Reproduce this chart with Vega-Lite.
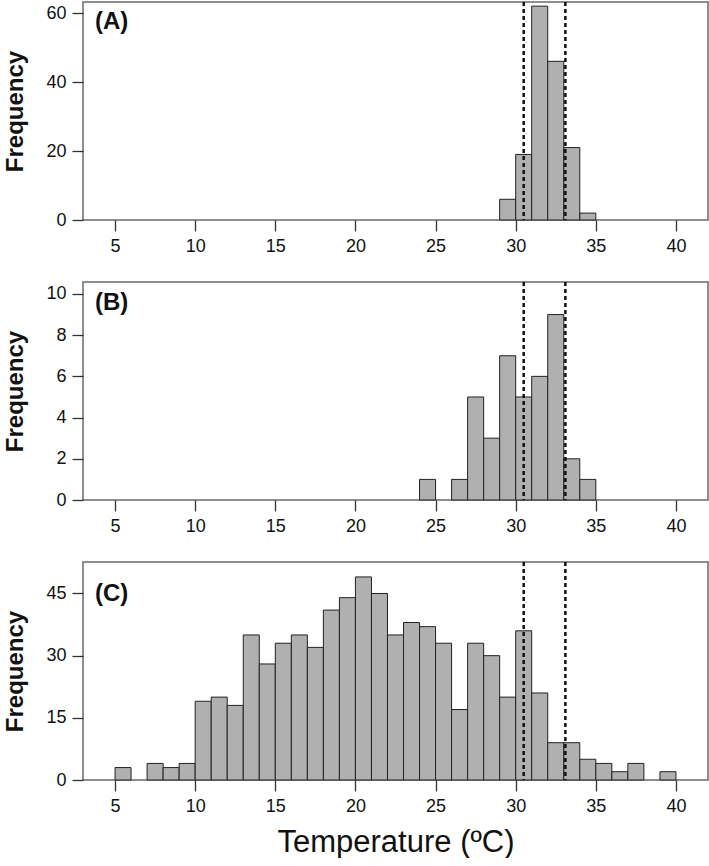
{
  "$schema": "https://vega.github.io/schema/vega-lite/v6.json",
  "padding": {"left": 3, "top": 0, "right": 1, "bottom": 0},
  "spacing": 24,
  "config": {
    "font": "Liberation Sans",
    "view": {"stroke": "#6a6a6a", "strokeWidth": 1.5},
    "axis": {"grid": false, "domain": false, "tickColor": "#333333", "tickSize": 11, "tickWidth": 1.3, "labelFontSize": 18, "labelColor": "#111111", "titleColor": "#111111", "labelFont": "Liberation Sans", "titleFont": "Liberation Sans"},
    "axisY": {"labelPadding": 6, "titleFontSize": 24, "titleFontWeight": "bold", "titlePadding": 18},
    "axisX": {"labelPadding": 6, "labelFlush": false}
  },
  "datasets": {
    "a": [
      {"lo": 29, "hi": 30, "n": 6},
      {"lo": 30, "hi": 31, "n": 19},
      {"lo": 31, "hi": 32, "n": 62},
      {"lo": 32, "hi": 33, "n": 46},
      {"lo": 33, "hi": 34, "n": 21},
      {"lo": 34, "hi": 35, "n": 2}
    ],
    "b": [
      {"lo": 24, "hi": 25, "n": 1},
      {"lo": 26, "hi": 27, "n": 1},
      {"lo": 27, "hi": 28, "n": 5},
      {"lo": 28, "hi": 29, "n": 3},
      {"lo": 29, "hi": 30, "n": 7},
      {"lo": 30, "hi": 31, "n": 5},
      {"lo": 31, "hi": 32, "n": 6},
      {"lo": 32, "hi": 33, "n": 9},
      {"lo": 33, "hi": 34, "n": 2},
      {"lo": 34, "hi": 35, "n": 1}
    ],
    "c": [
      {"lo": 5, "hi": 6, "n": 3},
      {"lo": 7, "hi": 8, "n": 4},
      {"lo": 8, "hi": 9, "n": 3},
      {"lo": 9, "hi": 10, "n": 4},
      {"lo": 10, "hi": 11, "n": 19},
      {"lo": 11, "hi": 12, "n": 20},
      {"lo": 12, "hi": 13, "n": 18},
      {"lo": 13, "hi": 14, "n": 35},
      {"lo": 14, "hi": 15, "n": 28},
      {"lo": 15, "hi": 16, "n": 33},
      {"lo": 16, "hi": 17, "n": 35},
      {"lo": 17, "hi": 18, "n": 32},
      {"lo": 18, "hi": 19, "n": 41},
      {"lo": 19, "hi": 20, "n": 44},
      {"lo": 20, "hi": 21, "n": 49},
      {"lo": 21, "hi": 22, "n": 45},
      {"lo": 22, "hi": 23, "n": 35},
      {"lo": 23, "hi": 24, "n": 38},
      {"lo": 24, "hi": 25, "n": 37},
      {"lo": 25, "hi": 26, "n": 33},
      {"lo": 26, "hi": 27, "n": 17},
      {"lo": 27, "hi": 28, "n": 33},
      {"lo": 28, "hi": 29, "n": 30},
      {"lo": 29, "hi": 30, "n": 20},
      {"lo": 30, "hi": 31, "n": 36},
      {"lo": 31, "hi": 32, "n": 21},
      {"lo": 32, "hi": 33, "n": 9},
      {"lo": 33, "hi": 34, "n": 9},
      {"lo": 34, "hi": 35, "n": 5},
      {"lo": 35, "hi": 36, "n": 4},
      {"lo": 36, "hi": 37, "n": 2},
      {"lo": 37, "hi": 38, "n": 4},
      {"lo": 39, "hi": 40, "n": 2}
    ],
    "cut": [{"t": 30.5}, {"t": 33.1}],
    "labA": [{"x": 3.75, "y": 57.5, "label": "(A)"}],
    "labB": [{"x": 3.75, "y": 9.55, "label": "(B)"}],
    "labC": [{"x": 3.75, "y": 44.8, "label": "(C)"}]
  },
  "vconcat": [
    {
      "width": 625, "height": 218,
      "layer": [
        {
          "data": {"name": "a"},
          "mark": {"type": "rect", "fill": "#b0b0b0", "stroke": "#222222", "strokeWidth": 1},
          "encoding": {
            "x": {"field": "lo", "type": "quantitative", "scale": {"domain": [3, 42], "nice": false, "zero": false}, "axis": {"values": [5, 10, 15, 20, 25, 30, 35, 40], "title": null}},
            "x2": {"field": "hi"},
            "y": {"field": "n", "type": "quantitative", "scale": {"domain": [0, 63.2], "nice": false}, "axis": {"values": [0, 20, 40, 60], "title": "Frequency"}},
            "y2": {"datum": 0}
          }
        },
        {
          "data": {"name": "cut"},
          "mark": {"type": "rule", "strokeDash": [4, 3], "strokeWidth": 2.5, "color": "#111111"},
          "encoding": {"x": {"field": "t", "type": "quantitative"}}
        },
        {
          "data": {"name": "labA"},
          "mark": {"type": "text", "align": "left", "baseline": "middle", "fontSize": 24, "fontWeight": "bold", "color": "#111111"},
          "encoding": {"x": {"field": "x", "type": "quantitative"}, "y": {"field": "y", "type": "quantitative"}, "text": {"field": "label"}}
        }
      ]
    },
    {
      "width": 625, "height": 218,
      "layer": [
        {
          "data": {"name": "b"},
          "mark": {"type": "rect", "fill": "#b0b0b0", "stroke": "#222222", "strokeWidth": 1},
          "encoding": {
            "x": {"field": "lo", "type": "quantitative", "scale": {"domain": [3, 42], "nice": false, "zero": false}, "axis": {"values": [5, 10, 15, 20, 25, 30, 35, 40], "title": null}},
            "x2": {"field": "hi"},
            "y": {"field": "n", "type": "quantitative", "scale": {"domain": [0, 10.58], "nice": false}, "axis": {"values": [0, 2, 4, 6, 8, 10], "title": "Frequency"}},
            "y2": {"datum": 0}
          }
        },
        {
          "data": {"name": "cut"},
          "mark": {"type": "rule", "strokeDash": [4, 3], "strokeWidth": 2.5, "color": "#111111"},
          "encoding": {"x": {"field": "t", "type": "quantitative"}}
        },
        {
          "data": {"name": "labB"},
          "mark": {"type": "text", "align": "left", "baseline": "middle", "fontSize": 24, "fontWeight": "bold", "color": "#111111"},
          "encoding": {"x": {"field": "x", "type": "quantitative"}, "y": {"field": "y", "type": "quantitative"}, "text": {"field": "label"}}
        }
      ]
    },
    {
      "width": 625, "height": 218,
      "layer": [
        {
          "data": {"name": "c"},
          "mark": {"type": "rect", "fill": "#b0b0b0", "stroke": "#222222", "strokeWidth": 1},
          "encoding": {
            "x": {"field": "lo", "type": "quantitative", "scale": {"domain": [3, 42], "nice": false, "zero": false}, "axis": {"values": [5, 10, 15, 20, 25, 30, 35, 40], "title": "Temperature (ºC)", "titleFontSize": 31, "titleFontWeight": "normal", "titlePadding": 12}},
            "x2": {"field": "hi"},
            "y": {"field": "n", "type": "quantitative", "scale": {"domain": [0, 52.6], "nice": false}, "axis": {"values": [0, 15, 30, 45], "title": "Frequency"}},
            "y2": {"datum": 0}
          }
        },
        {
          "data": {"name": "cut"},
          "mark": {"type": "rule", "strokeDash": [4, 3], "strokeWidth": 2.5, "color": "#111111"},
          "encoding": {"x": {"field": "t", "type": "quantitative"}}
        },
        {
          "data": {"name": "labC"},
          "mark": {"type": "text", "align": "left", "baseline": "middle", "fontSize": 24, "fontWeight": "bold", "color": "#111111"},
          "encoding": {"x": {"field": "x", "type": "quantitative"}, "y": {"field": "y", "type": "quantitative"}, "text": {"field": "label"}}
        }
      ]
    }
  ]
}
